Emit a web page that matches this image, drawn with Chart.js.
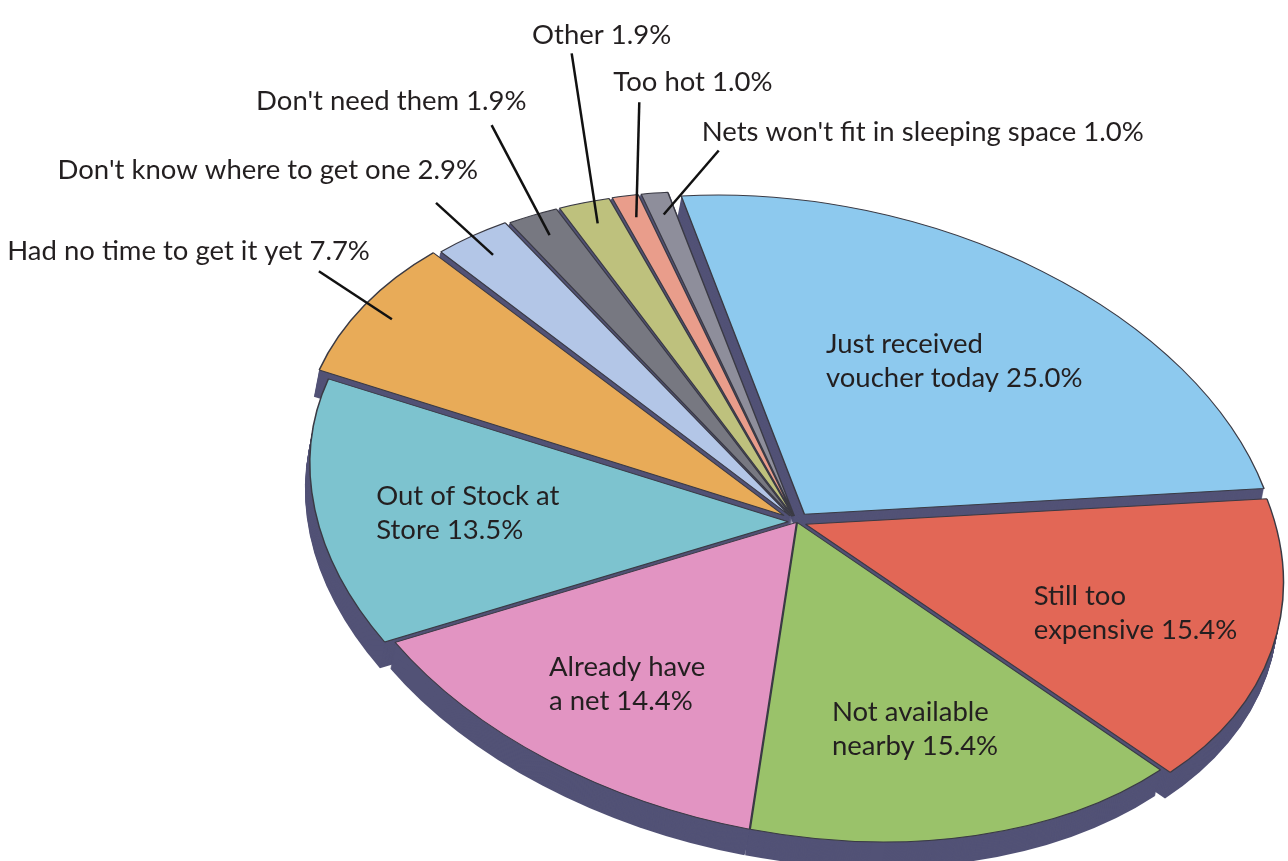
<!DOCTYPE html>
<html>
<head>
<meta charset="utf-8">
<script src="https://cdn.jsdelivr.net/npm/chart.js@4.4.1/dist/chart.umd.min.js"></script>
<style>
  html, body { margin: 0; padding: 0; background: #fff; }
  #wrap { width: 1288px; height: 861px; }
</style>
</head>
<body>
<div id="wrap"><canvas id="myChart" width="1288" height="861"></canvas></div>
<script>
// reasons for not redeeming the net voucher, in percent
const reasons = [
  "Just received voucher today",
  "Still too expensive",
  "Not available nearby",
  "Already have a net",
  "Out of Stock at Store",
  "Had no time to get it yet",
  "Don't know where to get one",
  "Don't need them",
  "Other",
  "Too hot",
  "Nets won't fit in sleeping space"
];
const shares = [25.0, 15.4, 15.4, 14.4, 13.5, 7.7, 2.9, 1.9, 1.9, 1.0, 1.0];

const colors = [
  "#8dc9ee", "#e26756", "#9ac26a", "#e294c2", "#7dc3cf", "#e8ab58",
  "#b3c6e7", "#777881", "#bec17d", "#e99d8b", "#8e8e9b"
];
// how far each slice is pulled out (chart.js offset units)
const pullOut = [40, 24, 2, 2, 24, 40, 28, 24, 24, 24, 24];

// the flat pie is tilted into an ellipse with a dark side wall
const ELLIPSE = { rx: 476, skew: 58, ry: 314 };
const DEPTH = { dx: -5, dy: 26 };
const SIDE = "#525276";
const FONT = "27.5px Lato";
const TEXT = "#231f20";
const LINE_H = 34;

// labels written on the slice: words on first line, distance from centre
const inside = {
  0: { firstLine: 2, r: 0.63 },
  1: { firstLine: 2, r: 0.71 },
  2: { firstLine: 2, r: 0.66 },
  3: { firstLine: 2, r: 0.68 },
  4: { firstLine: 4, r: 0.68 }
};
// labels outside with a leader line: line vector, text align and nudge
const callouts = {
  5: { line: [-73, -48], align: "right", text: [51, -20] },
  6: { line: [-57, -52], align: "right", text: [42, -33] },
  7: { line: [-58, -110], align: "right", text: [35, -24] },
  8: { line: [-26, -170], align: "center", text: [30, -18] },
  9: { line: [3, -115], align: "left", text: [-26, -20] },
  10: { line: [55, -64], align: "left", text: [-17, -18] }
};

function labelText(i) {
  return reasons[i] + " " + shares[i].toFixed(1) + "%";
}

function tilt(ctx, chart) {
  const arc = chart.getDatasetMeta(0).data[0];
  const R = arc.outerRadius;
  ctx.translate(arc.x, arc.y);
  ctx.transform(ELLIPSE.rx / R, ELLIPSE.skew / R, 0, ELLIPSE.ry / R, 0, 0);
  ctx.translate(-arc.x, -arc.y);
}

function sliceShift(arc) {
  return (arc.options.offset || 0) / 4;
}

function wedgePath(ctx, arc) {
  const off = sliceShift(arc);
  const mid = (arc.startAngle + arc.endAngle) / 2;
  const fix = 1 - Math.sin(Math.min(Math.PI, arc.circumference));
  const x = arc.x + Math.cos(mid) * off;
  const y = arc.y + Math.sin(mid) * off;
  ctx.beginPath();
  ctx.moveTo(x, y);
  ctx.arc(x, y, arc.outerRadius + off * fix, arc.startAngle, arc.endAngle);
  ctx.closePath();
}

// point on the tilted slice, frac = share of the radius
function project(arc, frac) {
  const R = arc.outerRadius;
  const mid = (arc.startAngle + arc.endAngle) / 2;
  const d = frac * R + sliceShift(arc);
  const vx = Math.cos(mid) * d;
  const vy = Math.sin(mid) * d;
  return {
    x: arc.x + ELLIPSE.rx / R * vx,
    y: arc.y + ELLIPSE.skew / R * vx + ELLIPSE.ry / R * vy
  };
}

const pie3d = {
  id: "pie3d",
  beforeDatasetsDraw(chart) {
    const ctx = chart.ctx;
    const arcs = chart.getDatasetMeta(0).data;
    const steps = 26;
    ctx.save();
    ctx.fillStyle = SIDE;
    for (let s = steps; s >= 1; s--) {
      ctx.save();
      ctx.translate(DEPTH.dx * s / steps, DEPTH.dy * s / steps);
      tilt(ctx, chart);
      arcs.forEach((a) => {
        wedgePath(ctx, a);
        ctx.fill();
      });
      ctx.restore();
    }
    ctx.restore();
    ctx.save();
    tilt(ctx, chart);
  },
  afterDatasetsDraw(chart) {
    const ctx = chart.ctx;
    ctx.restore();
    const arcs = chart.getDatasetMeta(0).data;
    ctx.save();
    ctx.font = FONT;
    ctx.fillStyle = TEXT;
    ctx.textBaseline = "middle";

    Object.keys(inside).forEach((k) => {
      const i = +k;
      const cfg = inside[k];
      const words = labelText(i).split(" ");
      const lines = [words.slice(0, cfg.firstLine).join(" "), words.slice(cfg.firstLine).join(" ")];
      const p = project(arcs[i], cfg.r);
      const w = Math.max(...lines.map((l) => ctx.measureText(l).width));
      ctx.textAlign = "left";
      lines.forEach((l, j) => {
        ctx.fillText(l, p.x - w / 2, p.y + (j - (lines.length - 1) / 2) * LINE_H);
      });
    });

    ctx.strokeStyle = "#111";
    ctx.lineWidth = 2.5;
    Object.keys(callouts).forEach((k) => {
      const i = +k;
      const cfg = callouts[k];
      const start = project(arcs[i], 0.95);
      const end = { x: start.x + cfg.line[0], y: start.y + cfg.line[1] };
      ctx.beginPath();
      ctx.moveTo(start.x, start.y);
      ctx.lineTo(end.x, end.y);
      ctx.stroke();
      ctx.textAlign = cfg.align;
      ctx.fillText(labelText(i), end.x + cfg.text[0], end.y + cfg.text[1]);
    });
    ctx.restore();
  }
};

const data = {
  labels: reasons,
  datasets: [
    {
      data: shares,
      backgroundColor: colors,
      borderColor: "#3a3a44",
      borderWidth: 1,
      offset: pullOut,
      clip: false
    }
  ]
};

const config = {
  type: "pie",
  data,
  options: {
    responsive: false,
    animation: false,
    events: [],
    rotation: -15,
    layout: { padding: { left: 306, top: 183, right: 0, bottom: 0 } },
    plugins: {
      legend: { display: false },
      tooltip: { enabled: false }
    }
  },
  plugins: [pie3d]
};

new Chart(document.getElementById("myChart"), config);
</script>
</body>
</html>
